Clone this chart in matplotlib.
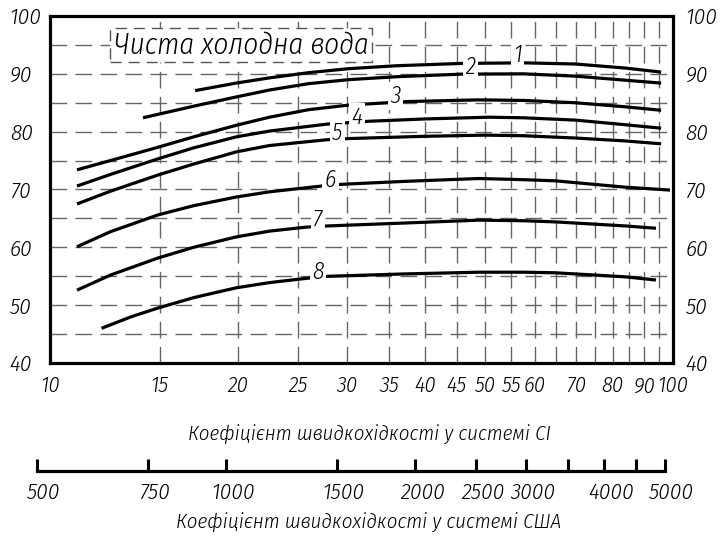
import os
import matplotlib
matplotlib.use('Agg')
import matplotlib.pyplot as plt
import matplotlib.transforms as mtrans
from matplotlib.patches import Rectangle
from matplotlib.ticker import FixedLocator, FixedFormatter, NullFormatter
from matplotlib import font_manager as fm

# ---------------- data ----------------
c1_x = [17.1, 19.9, 22.5, 26.0, 30.2, 36.0, 45.8, 57.5, 69.7, 83.8, 95.7]
c1_y = [87.1, 88.4, 89.3, 90.2, 90.9, 91.4, 91.8, 91.9, 91.7, 91.0, 90.3]

c2_x = [14.1, 17.0, 19.9, 22.5, 26.0, 30.2, 36.0, 45.8, 57.5, 69.7, 83.8, 95.7]
c2_y = [82.4, 84.4, 86.0, 87.2, 88.3, 89.0, 89.5, 89.95, 90.0, 89.6, 88.9, 88.4]

c3_x = [11.05, 12.5, 14.9, 17.0, 19.9, 22.5, 26.0, 30.2, 37.3, 48.8, 57.5, 69.7, 83.8, 95.7]
c3_y = [73.4, 75.0, 77.3, 79.1, 81.1, 82.5, 83.8, 84.6, 85.2, 85.5, 85.4, 85.0, 84.3, 83.7]

c4_x = [11.05, 12.5, 14.9, 17.0, 19.9, 22.5, 27.8, 32.5, 40.0, 50.6, 57.5, 69.7, 83.8, 95.7]
c4_y = [70.6, 72.6, 75.3, 77.2, 79.1, 80.1, 81.3, 81.8, 82.2, 82.5, 82.4, 82.0, 81.2, 80.6]

c5_x = [11.05, 12.5, 14.9, 17.0, 19.9, 22.5, 27.8, 30.0, 40.0, 50.0, 57.5, 69.7, 83.8, 95.7]
c5_y = [67.5, 69.7, 72.5, 74.4, 76.5, 77.6, 78.6, 78.8, 79.2, 79.4, 79.3, 78.9, 78.4, 77.9]

c6_x = [11.05, 12.5, 14.9, 17.0, 19.9, 22.5, 27.3, 29.4, 37.0, 48.8, 57.5, 64.7, 83.8, 98.9]
c6_y = [60.1, 62.7, 65.6, 67.2, 68.7, 69.6, 70.6, 70.9, 71.4, 71.9, 71.7, 71.5, 70.4, 69.9]

c7_x = [11.05, 12.5, 14.9, 17.0, 19.9, 22.5, 25.8, 27.9, 37.0, 48.8, 57.5, 64.7, 83.8, 93.9]
c7_y = [52.6, 55.2, 58.15, 60.0, 61.8, 62.8, 63.5, 63.7, 64.2, 64.7, 64.6, 64.4, 63.7, 63.3]

c8_x = [12.1, 13.5, 14.9, 17.0, 19.9, 22.5, 26.1, 28.1, 37.0, 48.8, 57.5, 64.7, 83.8, 93.9]
c8_y = [46.0, 48.0, 49.5, 51.3, 53.0, 53.9, 54.7, 55.0, 55.4, 55.7, 55.7, 55.6, 54.9, 54.35]

curve_names = ['1', '2', '3', '4', '5', '6', '7', '8']
label_x = [56.3, 47.3, 35.9, 31.1, 28.9, 28.2, 26.9, 26.9]
label_y = [93.3, 91.2, 86.2, 82.5, 79.8, 71.6, 64.7, 55.7]

si_ticks = [10, 15, 20, 25, 30, 35, 40, 45, 50, 55, 60, 70, 80, 90, 100]
si_minor = [65, 75, 85, 95]
y_ticks = [40, 50, 60, 70, 80, 90, 100]
y_minor = [45, 55, 65, 75, 85, 95]
us_ticks = [500, 750, 1000, 1500, 2000, 2500, 3000, 3500, 4000, 4500, 5000]
us_labels = ['500', '750', '1000', '1500', '2000', '2500', '3000', '', '4000', '', '5000']

title = 'Чиста холодна вода'
si_label = 'Коефіцієнт швидкохідкості у системі СІ'
us_label = 'Коефіцієнт швидкохідкості у системі США'


# ---------------- fonts ----------------
def pick_font_file(prefixes):
    files = {os.path.basename(f.fname): f.fname for f in fm.fontManager.ttflist}
    for p in prefixes:
        for b, full in files.items():
            if b.startswith(p):
                return full
    return None


ffile = pick_font_file(['FiraSansCondensed-LightItalic', 'FiraSansCondensed-Italic',
                        'FiraSansExtraCondensed-LightItalic', 'FiraSansExtraCondensed-Italic'])


def fp(size):
    if ffile:
        return fm.FontProperties(fname=ffile, size=size)
    return fm.FontProperties(family=['DejaVu Sans'], style='italic', size=size)


# ---------------- figure ----------------
W, H = 720, 539
fig = plt.figure(figsize=(W / 100, H / 100), dpi=100)
ax = fig.add_axes([50 / W, 1 - 363 / H, 623 / W, 347 / H])
ax.set_xscale('log')
ax.set_xlim(10, 100)
ax.set_ylim(40, 100)

ax.xaxis.set_major_locator(FixedLocator(si_ticks))
ax.xaxis.set_major_formatter(FixedFormatter([str(t) for t in si_ticks]))
ax.xaxis.set_minor_locator(FixedLocator(si_minor))
ax.xaxis.set_minor_formatter(NullFormatter())
ax.yaxis.set_major_locator(FixedLocator(y_ticks))
ax.yaxis.set_major_formatter(FixedFormatter([str(t) for t in y_ticks]))
ax.yaxis.set_minor_locator(FixedLocator(y_minor))
ax.yaxis.set_minor_formatter(NullFormatter())

ax.grid(which='both', color='#666666', lw=1.0, ls=(0, (12, 6)))
ax.set_axisbelow(True)
for s in ax.spines.values():
    s.set_linewidth(2.3)

ax.tick_params(axis='both', which='both', length=0)
ax.tick_params(axis='x', pad=9)
ax.tick_params(axis='y', which='major', pad=29, right=True, labelright=True)

for lab in ax.get_xticklabels():
    lab.set_fontproperties(fp(16))
off_r = mtrans.ScaledTranslation(-20 / 72, 0, fig.dpi_scale_trans)
for t in ax.yaxis.get_major_ticks():
    t.label1.set_fontproperties(fp(16.5))
    t.label1.set_horizontalalignment('left')
    t.label2.set_fontproperties(fp(16.5))
    t.label2.set_horizontalalignment('left')
    t.label2.set_transform(t.label2.get_transform() + off_r)

curves = [(c1_x, c1_y), (c2_x, c2_y), (c3_x, c3_y), (c4_x, c4_y),
          (c5_x, c5_y), (c6_x, c6_y), (c7_x, c7_y), (c8_x, c8_y)]
for (xs, ys) in curves:
    ax.plot(xs, ys, color='black', lw=2.3, solid_capstyle='butt',
            solid_joinstyle='round', zorder=3, clip_on=False)

for name, lx, ly in zip(curve_names, label_x, label_y):
    ax.text(lx, ly, name, fontproperties=fp(17), ha='center', va='center',
            zorder=4, bbox=dict(boxstyle='square,pad=0.1', fc='white', ec='none'))

# title with dashed frame
ax.add_patch(Rectangle(((110 - 50) / 623, (363 - 62) / 347), (372 - 110) / 623, (62 - 28) / 347,
                       transform=ax.transAxes, fc='white', ec='#555555', lw=1.0,
                       ls=(0, (8, 5)), zorder=3.5))
ax.text((241 - 50) / 623, (363 - 45) / 347, title, transform=ax.transAxes,
        fontproperties=fp(21), ha='center', va='center', zorder=4)

fig.text(369 / W, 1 - 435 / H, si_label, fontproperties=fp(15), ha='center', va='center')

# ---------------- US scale ----------------
ax2 = fig.add_axes([37 / W, 1 - 471 / H, 628 / W, 0.01])
ax2.set_xscale('log')
ax2.set_xlim(500, 5000)
ax2.set_ylim(0, 1)
for side in ['top', 'left', 'right']:
    ax2.spines[side].set_visible(False)
ax2.spines['bottom'].set_linewidth(2.3)
ax2.patch.set_visible(False)
ax2.set_yticks([])
ax2.xaxis.set_major_locator(FixedLocator(us_ticks))
ax2.xaxis.set_major_formatter(FixedFormatter(us_labels))
ax2.xaxis.set_minor_locator(FixedLocator([]))
ax2.tick_params(axis='x', direction='in', length=9, width=2.2, pad=8)
off_us = mtrans.ScaledTranslation(5 / 72, 0, fig.dpi_scale_trans)
for lab in ax2.get_xticklabels():
    lab.set_fontproperties(fp(16.5))
    lab.set_transform(lab.get_transform() + off_us)

fig.text(369 / W, 1 - 523 / H, us_label, fontproperties=fp(15), ha='center', va='center')

fig.savefig('out.png', dpi=100)
